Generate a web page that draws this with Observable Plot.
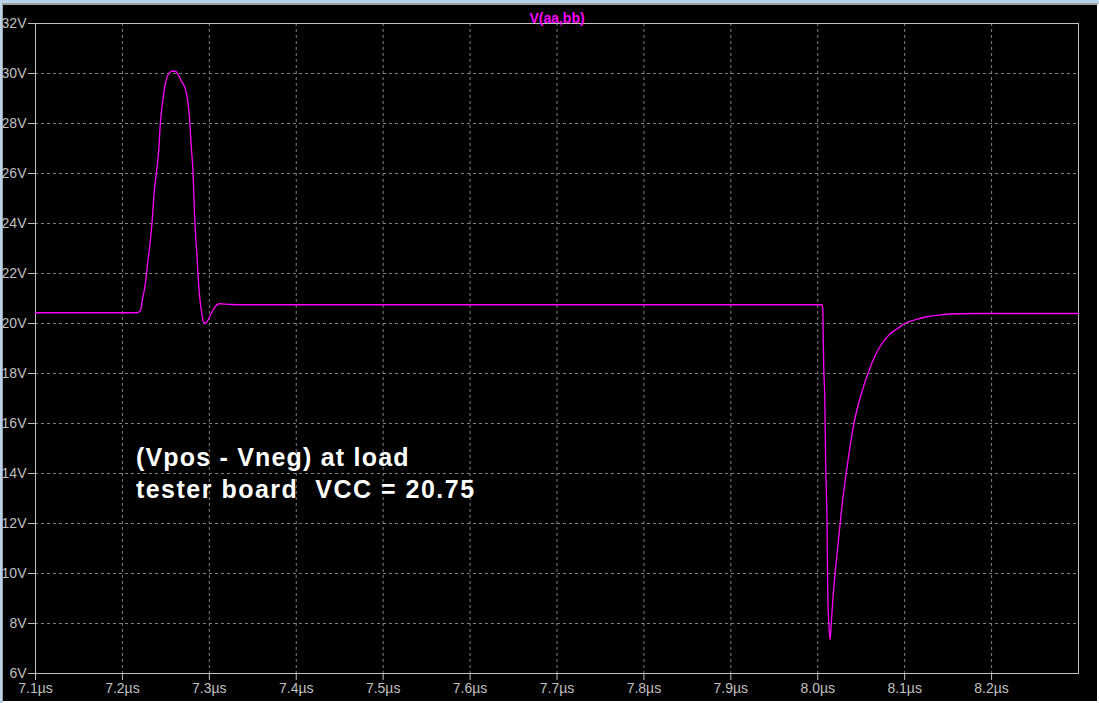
<!DOCTYPE html>
<html>
<head>
<meta charset="utf-8">
<script src="https://cdn.jsdelivr.net/npm/d3@7"></script>
<script src="https://cdn.jsdelivr.net/npm/@observablehq/plot@0.6"></script>
<style>
  html, body { margin: 0; padding: 0; background: #b9d1ea; }
  #win { position: relative; width: 1099px; height: 703px; background: #b9d1ea; overflow: hidden; }
  #panel { position: absolute; left: 2px; top: 3px; width: 1097px; height: 700px;
           background: #000; border-left: 1px solid #a0a0a0; border-top: 2px solid #a0a0a0;
           border-right: 2px solid #ffffff; border-bottom: 2px solid #ffffff; box-sizing: border-box; }
  #chart { position: absolute; left: 0; top: 0; }
  #chart svg { display: block; }
</style>
</head>
<body>
<div id="win">
  <div id="panel"></div>
  <div id="chart"></div>
</div>
<script>
// Trace V(aa,bb): time in µs, voltage in V
const timeUs = [7.1, 7.175, 7.216, 7.2206, 7.2229, 7.2264, 7.229, 7.2313, 7.234, 7.2367,
  7.239, 7.2417, 7.2436, 7.246, 7.2494, 7.2532, 7.2571, 7.2609, 7.2647, 7.2686,
  7.2724, 7.2751, 7.2774, 7.279, 7.2813, 7.2831, 7.2859, 7.2882, 7.2905, 7.2935,
  7.2958, 7.2993, 7.305, 7.3116, 7.3243, 7.3473, 8.0046, 8.0058, 8.0062, 8.0069,
  8.0081, 8.0092, 8.0107, 8.0115, 8.013, 8.0142, 8.0153, 8.0173, 8.0199, 8.023,
  8.0269, 8.0307, 8.0345, 8.0384, 8.0422, 8.048, 8.0537, 8.0595, 8.0652, 8.0729,
  8.0825, 8.0922, 8.0998, 8.1113, 8.1267, 8.1421, 8.1613, 8.1881, 8.3];
const voltage = [20.43, 20.43, 20.43, 20.5, 20.92, 21.6, 22.4, 23.05, 24.0, 25.3,
  26.0, 26.9, 27.99, 28.8, 29.59, 29.99, 30.09, 30.09, 29.92, 29.65,
  29.39, 28.92, 28.12, 27.19, 25.99, 24.25, 22.65, 21.32, 20.59, 20.05,
  20.01, 20.19, 20.59, 20.79, 20.76, 20.75, 20.75, 20.59, 19.72, 18.25,
  16.99, 14.19, 11.99, 9.25, 7.85, 7.35, 7.85, 8.92, 9.99, 11.05,
  12.39, 13.5, 14.45, 15.35, 16.1, 16.93, 17.59, 18.17, 18.65, 19.15,
  19.56, 19.81, 19.99, 20.14, 20.28, 20.35, 20.39, 20.4, 20.40];

const xTicks = [7.1, 7.2, 7.3, 7.4, 7.5, 7.6, 7.7, 7.8, 7.9, 8.0, 8.1, 8.2];
const yTicks = [6, 8, 10, 12, 14, 16, 18, 20, 22, 24, 26, 28, 30, 32];
const xDomain = [7.1, 8.3];
const yDomain = [6, 32];
const traceName = ["V(aa,bb)"];
const noteLines = ["(Vpos - Vneg) at load", "tester board  VCC = 20.75"];
const noteX = [7.2155, 7.2155];
const noteY = [14.64, 13.36];

const trace = timeUs.map((t, i) => ({t, v: voltage[i]}));
const notes = noteLines.map((s, i) => ({s, x: noteX[i], y: noteY[i]}));

const font = "Arial, 'Liberation Sans', sans-serif";
const chart = Plot.plot({
  width: 1099,
  height: 703,
  marginLeft: 35,
  marginRight: 21,
  marginTop: 23,
  marginBottom: 30,
  style: {background: "transparent", color: "#c0c0c0", fontFamily: font, fontSize: "14px"},
  x: {domain: xDomain, label: null},
  y: {domain: yDomain, label: null},
  marks: [
    Plot.gridX(xTicks.slice(1), {stroke: "#808080", strokeOpacity: 1, strokeDasharray: "3,3"}),
    Plot.gridY(yTicks.slice(1, -1), {stroke: "#808080", strokeOpacity: 1, strokeDasharray: "3,3"}),
    Plot.axisX(xTicks, {tickSize: 7, tickPadding: 3, fontSize: 14, tickFormat: d => d.toFixed(1) + "µs", stroke: "#c0c0c0", fill: "#c0c0c0"}),
    Plot.axisY(yTicks, {tickSize: 7, tickPadding: 2, fontSize: 14, tickFormat: d => d + "V", stroke: "#c0c0c0", fill: "#c0c0c0"}),
    Plot.frame({stroke: "#c0c0c0"}),
    Plot.line(trace, {x: "t", y: "v", stroke: "#ff00ff", strokeWidth: 1.3, curve: "monotone-x"}),
    Plot.text(traceName, {text: d => d, frameAnchor: "top", dy: -10, fill: "#ff00ff", fontWeight: "bold", fontSize: 14}),
    Plot.text(notes, {x: "x", y: "y", text: "s", textAnchor: "start", fill: "#ffffff", fontWeight: "bold", fontSize: 25, fontFamily: font})
  ]
});
document.getElementById("chart").appendChild(chart);
// letter spacing for the annotation to match the wide rendering
chart.querySelectorAll("text").forEach(el => {
  if (/^\(Vpos/.test(el.textContent)) el.style.letterSpacing = "1.2px";
  if (/^tester/.test(el.textContent)) el.style.letterSpacing = "1.5px";
});
</script>
</body>
</html>
